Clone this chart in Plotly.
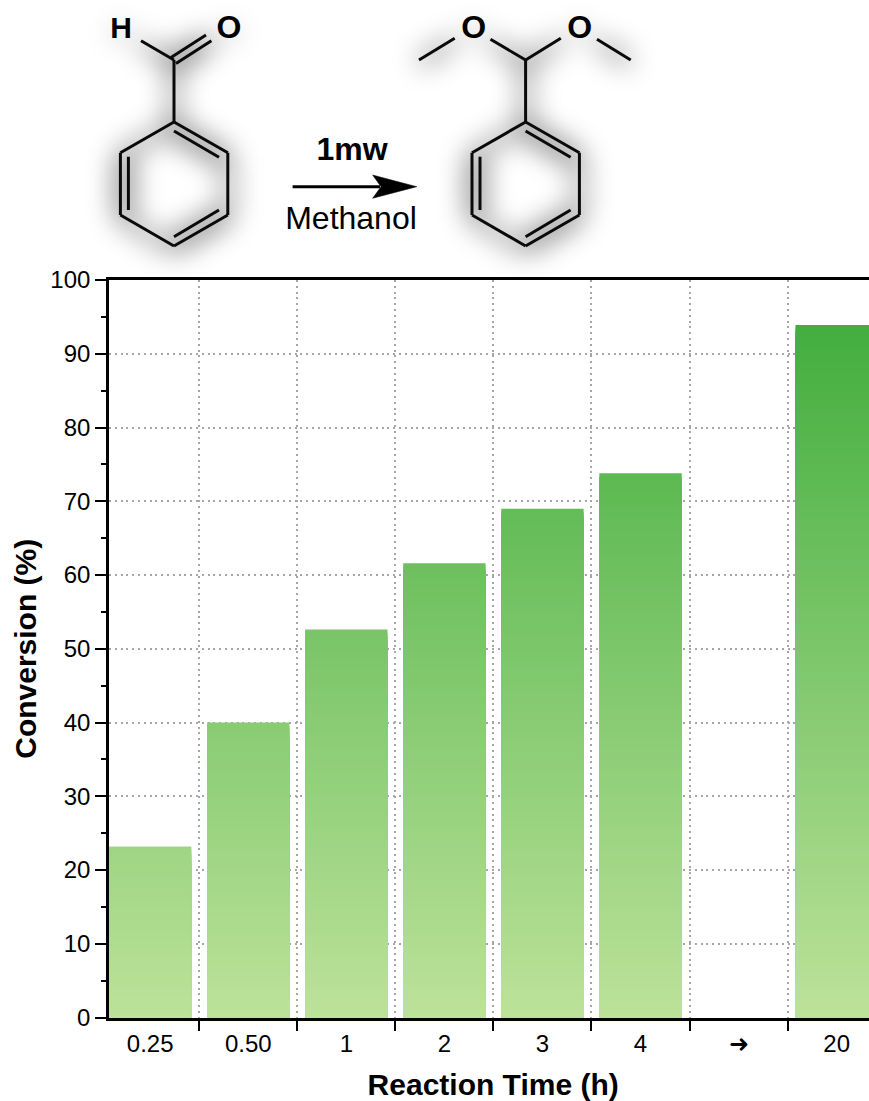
import plotly.graph_objects as go

times = ["0.25", "0.50", "1", "2", "3", "4", "➜", "20"]
conversion = [23.2, 40.0, 52.6, 61.6, 69.0, 73.8, 0, 93.9]

W, H = 869, 1101
L, T, B = 109, 280, 1017.5
FONT = "Liberation Sans, Arial, sans-serif"
LOW, HIGH = (189, 226, 154), (67, 174, 63)
STEP = 0.5


def shade(v):
    f = min(v / 94.0, 1)
    return "rgb({},{},{})".format(*[round(a + (b - a) * f) for a, b in zip(LOW, HIGH)])


fig = go.Figure()
# each bar is painted from its full height downward in lighter and lighter layers
sx, sy, sc = [], [], []
for cat, val in zip(times, conversion):
    sx.append(cat); sy.append(val); sc.append(shade(val))
    top = val - STEP
    while top > 0:
        sx.append(cat); sy.append(top); sc.append(shade(top))
        top -= STEP
fig.add_trace(go.Bar(x=sx, y=sy, width=0.84, marker=dict(color=sc, line_width=0)))

# reaction scheme, drawn on a page-pixel axis pair
ring = [[(0, 122), (53.8, 152.7)], [(53.8, 152.7), (53.8, 215)], [(53.8, 215), (0, 246)],
        [(0, 246), (-53.6, 215)], [(-53.6, 215), (-53.6, 152.7)], [(-53.6, 152.7), (0, 122)],
        [(0, 131), (45, 157.3)], [(-45.6, 156.7), (-45.6, 210)], [(0, 236.7), (45, 210)],
        [(0, 60), (0, 122)]]
segs = [[(a[0] + 174, a[1]), (b[0] + 174, b[1])] for a, b in ring]
segs += [[(a[0] + 525.6, a[1]), (b[0] + 525.6, b[1])] for a, b in ring]
segs += [[(141, 40.7), (174, 60)], [(171, 57.5), (206, 35)], [(176, 63.5), (211.4, 40.7)],
         [(525.6, 60), (490.5, 39.3)], [(525.6, 60), (560.8, 38.3)],
         [(454.7, 38.3), (419, 60)], [(597, 39.3), (630.7, 60)]]
sxs, sys = [], []
for a, b in segs:
    sxs += [a[0], b[0], None]
    sys += [a[1], b[1], None]
# soft halo round the molecules: a wide line, blurred after drawing
halo_x = sxs + [121, 121, None, 229, 229, None, 473.7, 473.7, None, 579.8, 579.8, None]
halo_y = sys + [25, 35, None, 25, 35, None, 25, 35, None, 25, 35, None]
fig.add_trace(go.Scatter(x=halo_x, y=[None if v is None else v + 3 for v in halo_y], mode="lines",
                         xaxis="x2", yaxis="y2", line=dict(color="rgba(0,0,0,0.30)", width=16)))
fig.add_trace(go.Scatter(x=sxs, y=sys, mode="lines", xaxis="x2", yaxis="y2",
                         line=dict(color="#0a0a0a", width=3)))
fig.add_trace(go.Scatter(x=[292.6, 380], y=[186.7, 186.7], mode="lines", xaxis="x2", yaxis="y2",
                         line=dict(color="black", width=3)))
fig.add_trace(go.Scatter(x=[416.8, 372.6, 381, 372.6, 416.8], y=[186.7, 175, 186.7, 198.3, 186.7],
                         mode="lines", fill="toself", fillcolor="black", xaxis="x2", yaxis="y2",
                         line=dict(color="black", width=0.5)))
labels = [("H", 121, 30, True, 30), ("O", 229, 30, True, 32), ("O", 473.7, 30, True, 32),
          ("O", 579.8, 30, True, 32), ("1mw", 352, 152, True, 32), ("Methanol", 351, 221, False, 32)]
fig.add_trace(go.Scatter(x=[l[1] for l in labels], y=[l[2] for l in labels], mode="text",
                         text=[f"<b>{l[0]}</b>" if l[3] else l[0] for l in labels],
                         textfont=dict(family=FONT, size=[l[4] for l in labels], color="black"),
                         textposition="middle center", xaxis="x2", yaxis="y2"))

grid = dict(griddash="2px,3.8px", gridcolor="#a6a6a6", gridwidth=2, showgrid=True, zeroline=False)
fig.update_layout(
    width=W, height=H, margin=dict(l=0, r=0, t=0, b=0, pad=0, autoexpand=False),
    paper_bgcolor="white", plot_bgcolor="rgba(0,0,0,0)", showlegend=False, barmode="overlay",
    font=dict(family=FONT, color="black"),
    xaxis=dict(type="category", categoryorder="array", categoryarray=times, range=[-0.42, 7.33],
               domain=[L / W, 1], anchor="y", automargin=False,
               tickson="boundaries", ticks="outside", ticklen=11, tickwidth=2.4, tickcolor="black",
               tickfont=dict(size=24), ticklabelstandoff=3, showline=True, linecolor="black",
               linewidth=2.6, mirror=True,
               title=dict(text="&nbsp;<b>Reaction Time (h)</b>", font=dict(size=30), standoff=18), **grid),
    yaxis=dict(range=[0, 100], domain=[1 - B / H, 1 - T / H], anchor="x", automargin=False,
               dtick=10, ticks="outside", ticklen=11, tickwidth=2.4, tickcolor="black",
               tickfont=dict(size=24), showline=True, linecolor="black", linewidth=2.6,
               minor=dict(dtick=5, ticks="outside", ticklen=5, tickwidth=2.4, tickcolor="black", showgrid=False),
               title=dict(text="<b>Conversion (%)</b>", font=dict(size=30), standoff=5), **grid),
    xaxis2=dict(domain=[0, 1], anchor="y2", range=[0, W], visible=False, showgrid=False),
    yaxis2=dict(domain=[0, 1], anchor="x2", range=[H, 0], visible=False, showgrid=False),
)
fig.write_html(
    "out.html",
    config={"displayModeBar": False},
    post_script="document.body.style.margin='0';"
                "var h=document.querySelector('.x2y2 .scatterlayer .trace');"
                "if(h){h.style.filter='blur(13px)';}",
)
